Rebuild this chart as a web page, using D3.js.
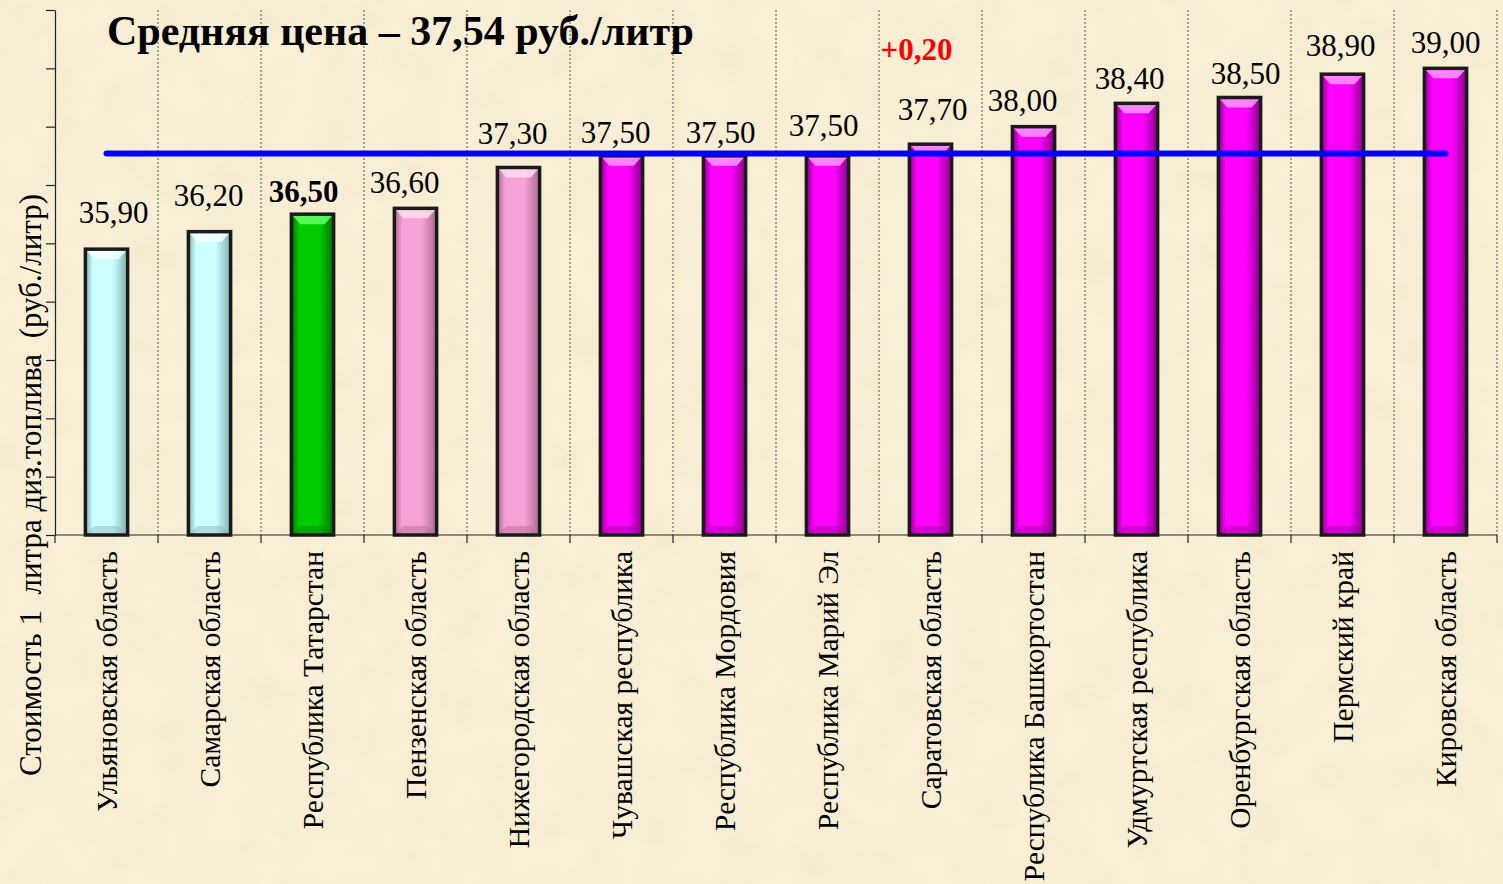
<!DOCTYPE html>
<html>
<head>
<meta charset="utf-8">
<script src="https://cdn.jsdelivr.net/npm/d3@7"></script>
<style>
  html, body { margin: 0; padding: 0; background: #f7eed5; }
  svg { display: block; }
</style>
</head>
<body>
<svg></svg>
<script>
var width = 1503;
var height = 884;

// data
var regions = [
  "Ульяновская область", "Самарская область", "Республика Татарстан",
  "Пензенская область", "Нижегородская область", "Чувашская республика",
  "Республика Мордовия", "Республика Марий Эл", "Саратовская область",
  "Республика Башкортостан", "Удмуртская республика", "Оренбургская область",
  "Пермский край", "Кировская область"
];
var prices = [35.90, 36.20, 36.50, 36.60, 37.30, 37.50, 37.50, 37.50, 37.70, 38.00, 38.40, 38.50, 38.90, 39.00];
var groups = ["low", "low", "own", "mid", "mid", "high", "high", "high", "high", "high", "high", "high", "high", "high"];
var yTicks = [31, 32, 33, 34, 35, 36, 37, 38, 39, 40];
var averagePrice = 37.54;
var changeNote = { region: "Саратовская область", text: "+0,20" };
var titleText = "Средняя цена – 37,54 руб./литр";
var yTitle = "Стоимость 1  литра диз.топлива  (руб./литр)";

// hand-placed label layout (offsets from bar top / bar centre, px)
var labelGap = [26, 26, 12, 15, 24, 13, 13, 20, 24, 16, 14, 14, 18, 15];
var labelDx = [7, -1, -9, -11, -6, -6, -4, -4, 2, -11, -7, 6, -2, 0];

var palette = {
  low:  { light: "#f4ffff", base: "#ccffff", dark: "#7fb0b0" },
  own:  { light: "#66ff66", base: "#00cc00", dark: "#007000" },
  mid:  { light: "#ffdcf0", base: "#f7a1d6", dark: "#a86890" },
  high: { light: "#ff99ff", base: "#ff00ff", dark: "#8a008a" }
};

var fmt = v => d3.format(".2f")(v).replace(".", ",");

var svg = d3.select("svg")
  .attr("width", width)
  .attr("height", height)
  .style("font-family", "'Liberation Serif', 'Times New Roman', serif");

var defs = svg.append("defs");

// parchment texture
var paper = defs.append("filter").attr("id", "paper")
  .attr("x", 0).attr("y", 0).attr("width", "100%").attr("height", "100%");
paper.append("feTurbulence")
  .attr("type", "fractalNoise")
  .attr("baseFrequency", 0.025)
  .attr("numOctaves", 3)
  .attr("seed", 4);
paper.append("feColorMatrix")
  .attr("type", "matrix")
  .attr("values", "0 0 0 0 0.78  0 0 0 0 0.68  0 0 0 0 0.45  0 0 0 -1.6 1.0");

Object.keys(palette).forEach(function (k) {
  var c = palette[k];
  var g = defs.append("linearGradient")
    .attr("id", "grad-" + k)
    .attr("x1", "0").attr("x2", "1").attr("y1", "0").attr("y2", "0");
  g.append("stop").attr("offset", "0").attr("stop-color", c.dark);
  g.append("stop").attr("offset", "0.18").attr("stop-color", c.base);
  g.append("stop").attr("offset", "0.65").attr("stop-color", c.base);
  g.append("stop").attr("offset", "1").attr("stop-color", c.dark);
});

svg.append("rect")
  .attr("width", width)
  .attr("height", height)
  .attr("fill", "#f8efd6");
svg.append("rect")
  .attr("width", width)
  .attr("height", height)
  .attr("filter", "url(#paper)")
  .attr("opacity", 0.22);

var x = d3.scaleBand()
  .domain(regions)
  .range([55, 1497])
  .paddingInner(0.59)
  .paddingOuter(0.295);

var y = d3.scaleLinear()
  .domain([31, 40])
  .range([535, 10]);

var step = x.step();
var x0 = x.range()[0];
var bounds = d3.range(regions.length + 1).map(i => x0 + i * step);

// vertical dotted separators
svg.append("g")
  .selectAll("line")
  .data(bounds.slice(1))
  .enter()
  .append("line")
    .attr("x1", d => d).attr("x2", d => d)
    .attr("y1", y(40)).attr("y2", y(31))
    .attr("stroke", "#555")
    .attr("stroke-width", 1)
    .attr("stroke-dasharray", "2,2");

// left axis
var yAxis = svg.append("g")
  .attr("transform", "translate(55,0)")
  .call(d3.axisLeft(y).tickValues(yTicks).tickFormat("").tickSize(9).tickSizeOuter(0));
yAxis.selectAll("path, line").attr("stroke", "#222").attr("stroke-width", 1.2);

// bottom axis
var xAxis = svg.append("g");
xAxis.append("line")
  .attr("x1", x0).attr("x2", bounds[bounds.length - 1])
  .attr("y1", y(31)).attr("y2", y(31))
  .attr("stroke", "#222").attr("stroke-width", 1.2);
xAxis.selectAll("line.tick")
  .data(bounds)
  .enter()
  .append("line")
    .attr("class", "tick")
    .attr("x1", d => d).attr("x2", d => d)
    .attr("y1", y(31)).attr("y2", y(31) + 8)
    .attr("stroke", "#222").attr("stroke-width", 1.2);

// bars
var rows = regions.map((r, i) => ({
  region: r, value: prices[i], group: groups[i], gap: labelGap[i], dx: labelDx[i]
}));

var bars = svg.append("g")
  .selectAll("g")
  .data(rows)
  .enter()
  .append("g");

bars.append("rect")
  .attr("x", d => x(d.region))
  .attr("y", d => y(d.value))
  .attr("width", x.bandwidth())
  .attr("height", d => y(31) - y(d.value))
  .attr("fill", d => "url(#grad-" + d.group + ")");

// top bevel
bars.append("path")
  .attr("d", function (d) {
    var bx = x(d.region), bw = x.bandwidth(), by = y(d.value);
    return "M" + bx + "," + by + "L" + (bx + bw) + "," + by +
      "L" + (bx + bw - 9) + "," + (by + 10) + "L" + (bx + 9) + "," + (by + 10) + "Z";
  })
  .attr("fill", d => palette[d.group].light)
  .attr("opacity", 0.85);

// bottom bevel
bars.append("path")
  .attr("d", function (d) {
    var bx = x(d.region), bw = x.bandwidth(), by = y(31);
    return "M" + bx + "," + by + "L" + (bx + bw) + "," + by +
      "L" + (bx + bw - 9) + "," + (by - 9) + "L" + (bx + 9) + "," + (by - 9) + "Z";
  })
  .attr("fill", d => palette[d.group].dark)
  .attr("opacity", 0.4);

bars.append("rect")
  .attr("x", d => x(d.region))
  .attr("y", d => y(d.value))
  .attr("width", x.bandwidth())
  .attr("height", d => y(31) - y(d.value))
  .attr("fill", "none")
  .attr("stroke", "#1a1a1a")
  .attr("stroke-width", 3.5);

// value labels
bars.append("text")
  .attr("x", d => x(d.region) + x.bandwidth() / 2 + d.dx)
  .attr("y", d => y(d.value) - d.gap)
  .attr("text-anchor", "middle")
  .attr("font-size", 31)
  .attr("font-weight", d => d.group === "own" ? "bold" : "normal")
  .attr("fill", "#000")
  .text(d => fmt(d.value));

// average line
svg.append("line")
  .attr("x1", x(regions[0]) + x.bandwidth() / 2)
  .attr("x2", x(regions[regions.length - 1]) + x.bandwidth() / 2)
  .attr("y1", y(averagePrice))
  .attr("y2", y(averagePrice))
  .attr("stroke", "#0000ff")
  .attr("stroke-width", 6)
  .attr("stroke-linecap", "round");

// change note
svg.append("text")
  .attr("x", x(changeNote.region) + x.bandwidth() / 2 - 14)
  .attr("y", 60)
  .attr("text-anchor", "middle")
  .attr("font-size", 31)
  .attr("font-weight", "bold")
  .attr("fill", "#ff0000")
  .text(changeNote.text);

// category labels
svg.append("g")
  .selectAll("text")
  .data(regions)
  .enter()
  .append("text")
    .attr("transform", d => "translate(" + (x(d) + x.bandwidth() / 2 + 10) + "," + 551 + ") rotate(-90)")
    .attr("text-anchor", "end")
    .attr("font-size", 29.5)
    .attr("fill", "#000")
    .text(d => d);

// y title
svg.append("text")
  .attr("transform", "translate(41,485) rotate(-90)")
  .attr("text-anchor", "middle")
  .attr("font-size", 31)
  .attr("fill", "#000")
  .attr("xml:space", "preserve")
  .style("white-space", "pre")
  .text(yTitle);

// title
svg.append("text")
  .attr("x", 107)
  .attr("y", 45)
  .attr("font-size", 42)
  .attr("font-weight", "bold")
  .attr("fill", "#000")
  .text(titleText);
</script>
</body>
</html>
